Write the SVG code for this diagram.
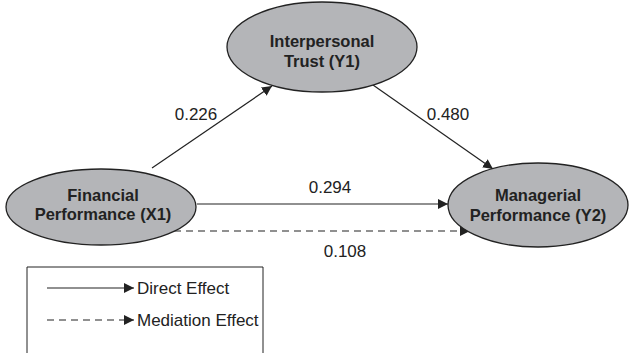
<svg xmlns="http://www.w3.org/2000/svg" width="630" height="353" viewBox="0 0 630 353">
<style>
.node ellipse{fill:#b4b5b8;stroke:#222;stroke-width:1.3}
.node text{font-family:"Liberation Sans",Arial,sans-serif;font-weight:bold;font-size:16.5px;fill:#222;text-anchor:middle}
.lbl{font-family:"Liberation Sans",Arial,sans-serif;font-size:17px;fill:#222;text-anchor:middle}
.leg{font-family:"Liberation Sans",Arial,sans-serif;font-size:17px;fill:#222}
.c{stroke:#222;stroke-width:1.2;fill:none}
.d{stroke-dasharray:7,5}
</style>
<defs>
<marker id="ah" viewBox="0 0 10 10" refX="10" refY="5" markerWidth="10" markerHeight="10" markerUnits="userSpaceOnUse" orient="auto">
<path d="M0,0 L10,5 L0,10 z" fill="#222"/>
</marker>
</defs>
<rect width="630" height="353" fill="#fff"/>
<g id="edges">
<line class="c" x1="152" y1="168" x2="272" y2="86" marker-end="url(#ah)"/>
<line class="c" x1="373" y1="85" x2="493" y2="169" marker-end="url(#ah)"/>
<line class="c" x1="197" y1="204" x2="448" y2="204" marker-end="url(#ah)"/>
<line class="c d" x1="174" y1="231" x2="470" y2="231" marker-end="url(#ah)"/>
</g>
<g id="Y1" class="node">
<ellipse cx="322" cy="47" rx="95" ry="45"/>
<text x="322" y="47">Interpersonal</text>
<text x="322" y="67">Trust (Y1)</text>
</g>
<g id="X1" class="node">
<ellipse cx="101" cy="207" rx="95" ry="38"/>
<text x="103" y="201">Financial</text>
<text x="103" y="220">Performance (X1)</text>
</g>
<g id="Y2" class="node">
<ellipse cx="538" cy="205" rx="90" ry="42"/>
<text x="538" y="201">Managerial</text>
<text x="538" y="221">Performance (Y2)</text>
</g>
<g id="labels">
<text class="lbl" x="196" y="120">0.226</text>
<text class="lbl" x="448" y="120">0.480</text>
<text class="lbl" x="330" y="193">0.294</text>
<text class="lbl" x="345" y="257">0.108</text>
</g>
<g id="legend">
<path d="M27,353 V267 H263 V353" fill="none" stroke="#222" stroke-width="1"/>
<line class="c" x1="47" y1="288" x2="134" y2="288" marker-end="url(#ah)"/>
<text class="leg" x="137" y="294">Direct Effect</text>
<line class="c d" x1="47" y1="320" x2="134" y2="320" marker-end="url(#ah)"/>
<text class="leg" x="137" y="326">Mediation Effect</text>
</g>
</svg>
